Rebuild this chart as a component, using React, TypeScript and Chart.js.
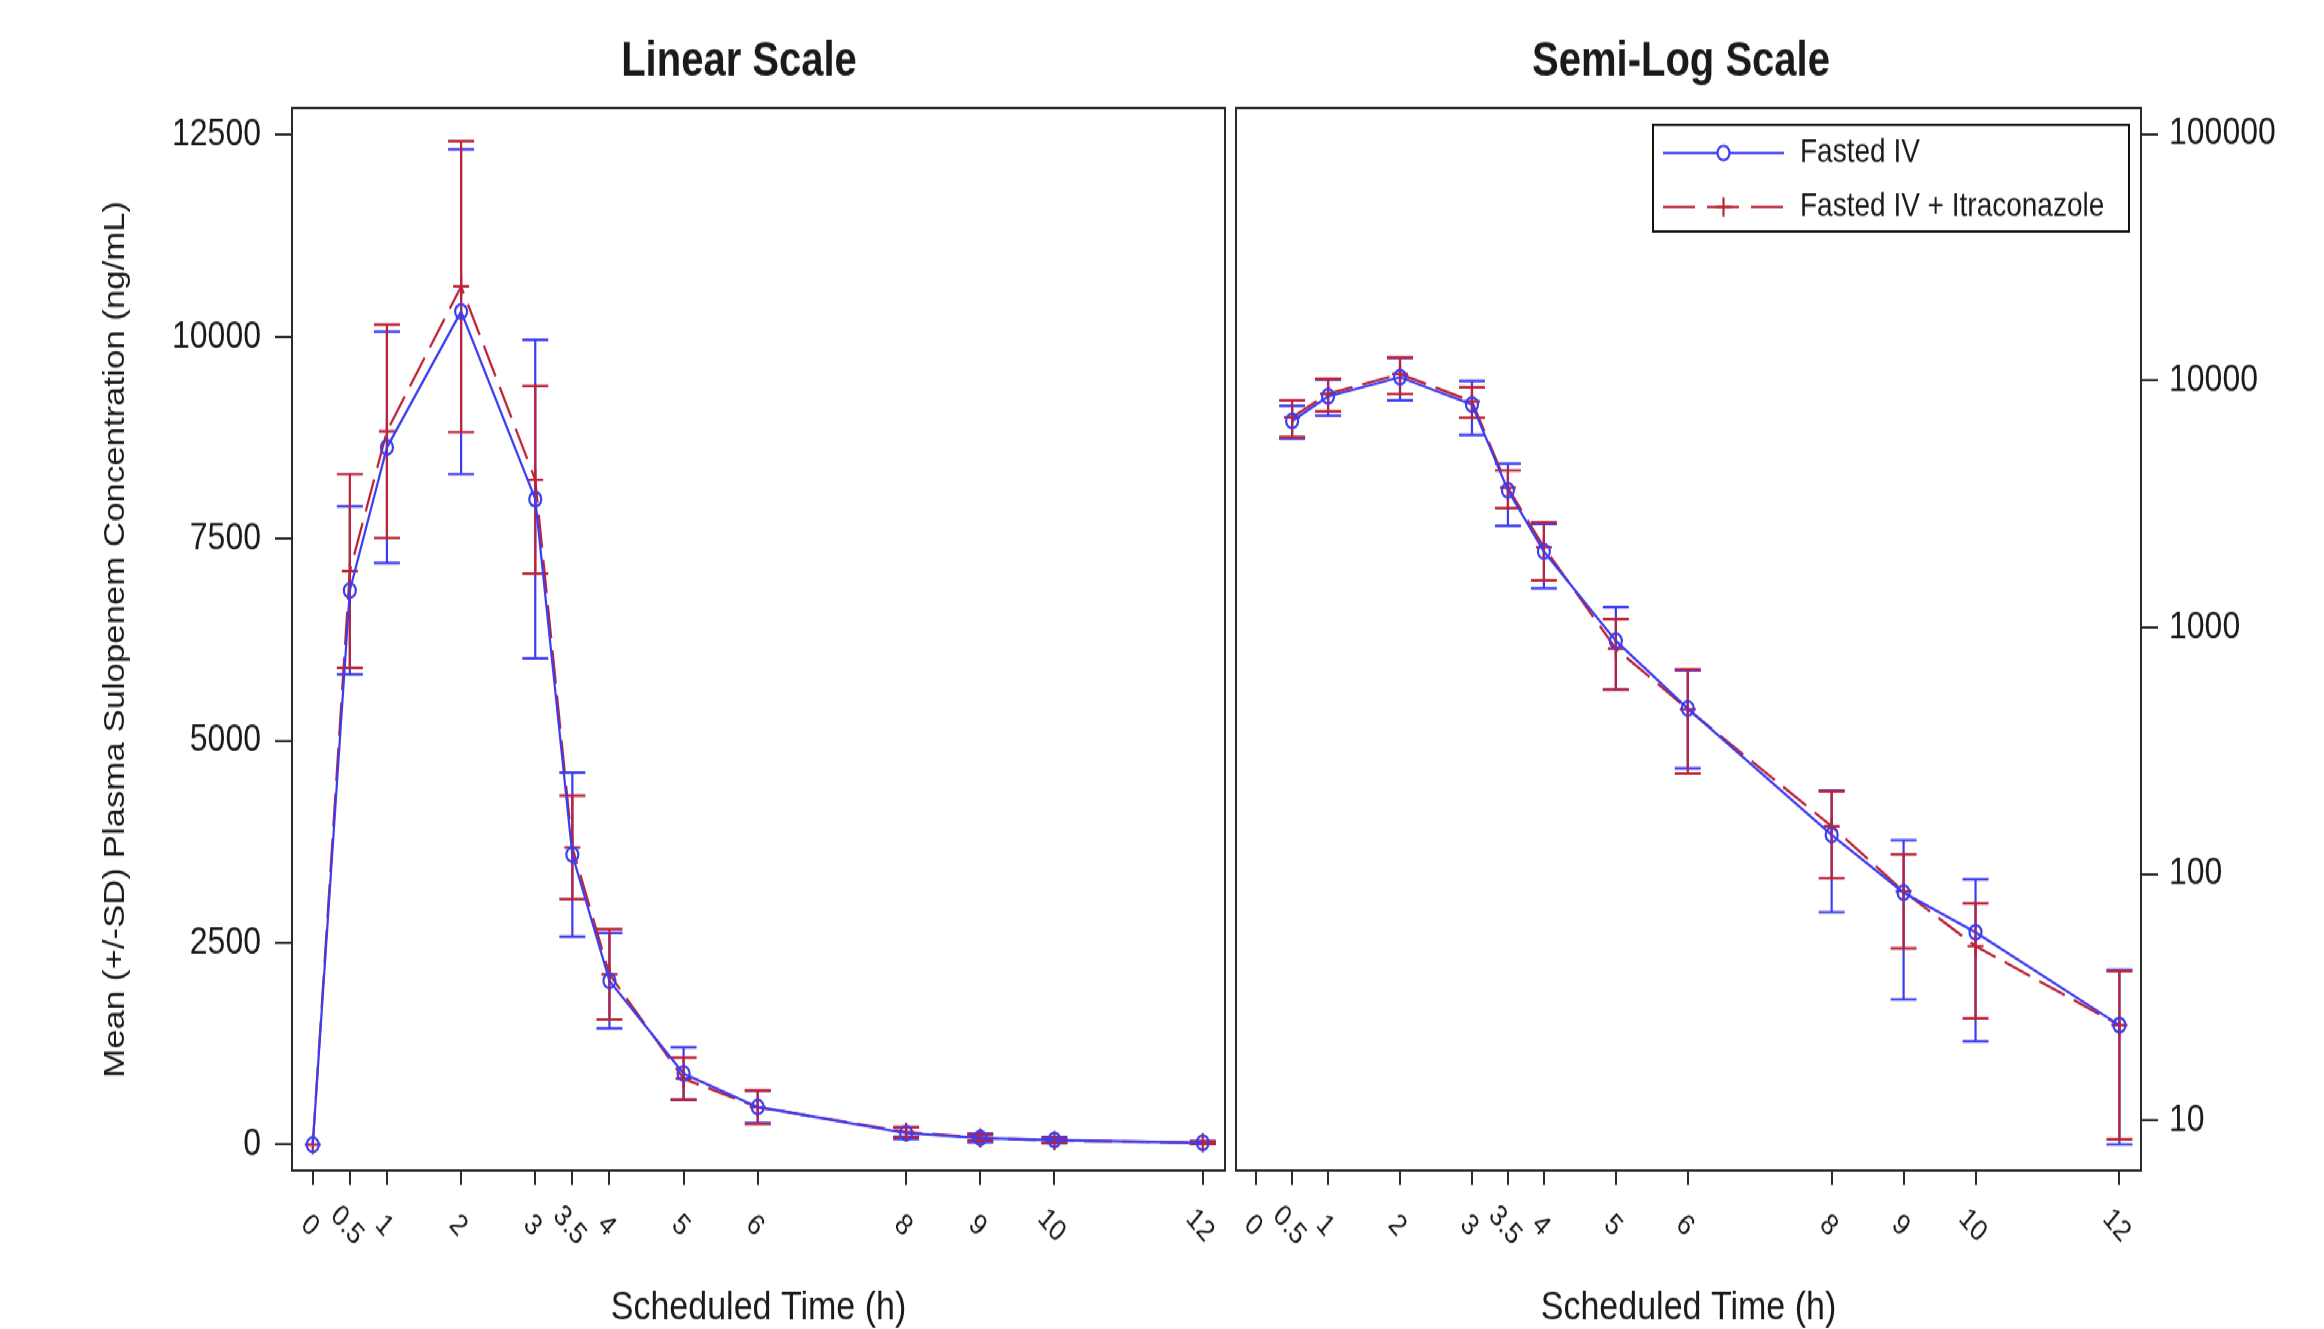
import React, { useEffect, useRef } from 'react';
import { Chart, registerables } from 'chart.js';

Chart.register(...registerables);

// ---------------- data ----------------
const times = [0, 0.5, 1, 2, 3, 3.5, 4, 5, 6, 8, 9, 10, 12];
const xTickLabels = ['0', '0.5', '1', '2', '3', '3.5', '4', '5', '6', '8', '9', '10', '12'];
const fastedMean = [0, 6860, 8630, 10310, 7990, 3590, 2030, 882, 468, 144, 84, 58, 24.4];
const fastedSD = [0, 1040, 1430, 2010, 1970, 1015, 590, 325, 200, 74, 53, 37, 16.4];
const itraMean = [0, 7100, 8830, 10620, 8230, 3680, 2110, 820, 465, 156, 85, 51, 24.4];
const itraSD = [0, 1200, 1320, 1800, 1160, 640, 560, 260, 210, 60, 35, 25, 16];
const linearYTicks = [0, 2500, 5000, 7500, 10000, 12500];
const logYTicks = [10, 100, 1000, 10000, 100000];
const seriesNames = ['Fasted IV', 'Fasted IV + Itraconazole'];
const panelTitles = ['Linear Scale', 'Semi-Log Scale'];
const xAxisTitle = 'Scheduled Time (h)';
const yAxisTitle = 'Mean (+/-SD) Plasma Sulopenem Concentration (ng/mL)';

// ---------------- styling ----------------
const BLUE = '#3c3cf0';
const RED = '#bd2335';
const INK = '#1a1a1a';
const FRAME = '#2a2a2a';
const FONT = "'Liberation Sans', Arial, sans-serif";
const H = 1108;
const STRETCH = 1329 / H;
const LEFT_W = 1230;
const RIGHT_W = 1094;
const AREA_TOP = 90;
const AREA_BOTTOM = 976;

Chart.defaults.font.family = FONT;
Chart.defaults.color = INK;

const framePlugin = {
  id: 'frame',
  afterDraw(chart: any) {
    const { ctx, chartArea: a } = chart;
    ctx.save();
    ctx.strokeStyle = FRAME;
    ctx.lineWidth = 2;
    ctx.strokeRect(a.left, a.top, a.right - a.left, a.bottom - a.top);
    ctx.restore();
  },
};

const errorBarPlugin = {
  id: 'errorBars',
  beforeDatasetsDraw(chart: any) {
    const { ctx } = chart;
    const x = chart.scales.x;
    const y = chart.scales.y;
    const cap = 13;
    const order = [0, 1];
    order.forEach((di) => {
      const ds = chart.data.datasets[di];
      ctx.save();
      ctx.strokeStyle = ds.borderColor;
      ctx.lineWidth = 2.2;
      ctx.setLineDash([]);
      ds.data.forEach((p: any) => {
        if (p.y == null || !p.sd) return;
        const px = x.getPixelForValue(p.x);
        const lo = p.y - p.sd;
        const hi = p.y + p.sd;
        const yHi = y.getPixelForValue(hi);
        const yLo = y.type === 'logarithmic' && lo <= 0 ? y.bottom : y.getPixelForValue(lo);
        ctx.beginPath();
        ctx.moveTo(px, yHi);
        ctx.lineTo(px, yLo);
        ctx.moveTo(px - cap, yHi);
        ctx.lineTo(px + cap, yHi);
        ctx.moveTo(px - cap, yLo);
        ctx.lineTo(px + cap, yLo);
        ctx.stroke();
      });
      ctx.restore();
    });
  },
};

const xLabelPlugin = {
  id: 'xLabels',
  afterDraw(chart: any) {
    const { ctx } = chart;
    const x = chart.scales.x;
    ctx.save();
    ctx.fillStyle = INK;
    ctx.font = `25px ${FONT}`;
    ctx.textAlign = 'center';
    ctx.textBaseline = 'middle';
    times.forEach((t, i) => {
      const px = x.getPixelForValue(t);
      ctx.save();
      ctx.translate(px - 3, 1022);
      ctx.rotate(Math.PI / 4);
      ctx.fillText(xTickLabels[i], 0, 0);
      ctx.restore();
    });
    ctx.restore();
  },
};

function titlePlugin(text: string, cx: number) {
  return {
    id: 'panelTitle',
    afterDraw(chart: any) {
      const { ctx } = chart;
      ctx.save();
      ctx.fillStyle = INK;
      ctx.font = `bold 40px ${FONT}`;
      ctx.textAlign = 'center';
      ctx.textBaseline = 'middle';
      ctx.fillText(text, cx, 52);
      ctx.restore();
    },
  };
}

const legendPlugin = {
  id: 'customLegend',
  afterDraw(chart: any) {
    const { ctx } = chart;
    const bx0 = 423, bx1 = 899, by0 = 104, by1 = 193;
    const rows = [127.5, 172.5];
    const lx0 = 433, lx1 = 554, lm = 493.5;
    ctx.save();
    ctx.fillStyle = '#ffffff';
    ctx.fillRect(bx0, by0, bx1 - bx0, by1 - by0);
    ctx.strokeStyle = '#111';
    ctx.lineWidth = 2;
    ctx.strokeRect(bx0, by0, bx1 - bx0, by1 - by0);
    // row 1
    ctx.lineWidth = 2.2;
    ctx.strokeStyle = BLUE;
    ctx.beginPath();
    ctx.moveTo(lx0, rows[0]);
    ctx.lineTo(lx1, rows[0]);
    ctx.stroke();
    ctx.beginPath();
    ctx.arc(lm, rows[0], 6, 0, Math.PI * 2);
    ctx.fillStyle = '#fff';
    ctx.fill();
    ctx.stroke();
    // row 2
    ctx.strokeStyle = RED;
    ctx.setLineDash([32, 12]);
    ctx.beginPath();
    ctx.moveTo(lx0, rows[1]);
    ctx.lineTo(lx1, rows[1]);
    ctx.stroke();
    ctx.setLineDash([]);
    ctx.beginPath();
    ctx.moveTo(lm - 8, rows[1]);
    ctx.lineTo(lm + 8, rows[1]);
    ctx.moveTo(lm, rows[1] - 8);
    ctx.lineTo(lm, rows[1] + 8);
    ctx.stroke();
    ctx.fillStyle = INK;
    ctx.font = `28px ${FONT}`;
    ctx.textAlign = 'left';
    ctx.textBaseline = 'middle';
    ctx.fillText(seriesNames[0], 570, rows[0]);
    ctx.fillText(seriesNames[1], 570, rows[1]);
    ctx.restore();
  },
};

function buildDatasets(isLog: boolean) {
  const mk = (means: number[], sds: number[]) =>
    times.map((t, i) => ({ x: t, y: isLog && means[i] <= 0 ? null : means[i], sd: sds[i] }));
  return [
    {
      label: seriesNames[0],
      data: mk(fastedMean, fastedSD),
      borderColor: BLUE,
      backgroundColor: 'rgba(0,0,0,0)',
      borderWidth: 2.2,
      pointStyle: 'circle',
      pointRadius: 6,
      pointBorderWidth: 2.2,
      pointBackgroundColor: 'rgba(255,255,255,0)',
      pointBorderColor: BLUE,
      spanGaps: true,
      tension: 0,
    },
    {
      label: seriesNames[1],
      data: mk(itraMean, itraSD),
      borderColor: RED,
      backgroundColor: 'rgba(0,0,0,0)',
      borderWidth: 2.2,
      borderDash: [28, 10],
      pointStyle: 'cross',
      pointRadius: 8,
      pointBorderWidth: 2.2,
      pointBorderColor: RED,
      spanGaps: true,
      tension: 0,
    },
  ];
}

function makeConfig(isLog: boolean): any {
  const xScale = {
    type: 'linear',
    position: 'bottom',
    min: -0.28,
    max: 12.3,
    afterBuildTicks: (s: any) => {
      s.ticks = times.map((v) => ({ value: v }));
    },
    afterFit: (s: any) => {
      s.height = H - AREA_BOTTOM;
    },
    ticks: { display: false },
    grid: {
      display: true,
      drawOnChartArea: false,
      drawTicks: true,
      tickLength: 12,
      color: FRAME,
      lineWidth: 2,
    },
    border: { display: false },
    title: {
      display: true,
      text: xAxisTitle,
      color: INK,
      font: { size: 34, family: FONT, lineHeight: 1 },
      padding: { top: 0, bottom: 0 },
    },
  };
  const yScale = isLog
    ? {
        type: 'logarithmic',
        position: 'right',
        min: 6.27,
        max: 127350,
        afterBuildTicks: (s: any) => {
          s.ticks = logYTicks.map((v) => ({ value: v }));
        },
        afterFit: (s: any) => {
          s.width = RIGHT_W - 911;
        },
        ticks: {
          callback: (v: any) => String(v),
          font: { size: 32, family: FONT },
          color: INK,
          padding: 11,
        },
        grid: {
          display: true,
          drawOnChartArea: false,
          drawTicks: true,
          tickLength: 17,
          color: FRAME,
          lineWidth: 2,
        },
        border: { display: false },
      }
    : {
        type: 'linear',
        position: 'left',
        min: -320,
        max: 12831,
        afterBuildTicks: (s: any) => {
          s.ticks = linearYTicks.map((v) => ({ value: v }));
        },
        afterFit: (s: any) => {
          s.width = 292;
        },
        ticks: {
          callback: (v: any) => String(v),
          font: { size: 32, family: FONT },
          color: INK,
          padding: 14,
        },
        grid: {
          display: true,
          drawOnChartArea: false,
          drawTicks: true,
          tickLength: 17,
          color: FRAME,
          lineWidth: 2,
        },
        border: { display: false },
        title: {
          display: true,
          text: yAxisTitle,
          color: INK,
          font: { size: 29, family: FONT, lineHeight: 1 },
          padding: { top: 101, bottom: 0 },
        },
      };
  return {
    type: 'line',
    data: { datasets: buildDatasets(isLog) },
    options: {
      responsive: false,
      maintainAspectRatio: false,
      animation: false,
      devicePixelRatio: 1,
      layout: {
        autoPadding: false,
        padding: isLog
          ? { top: AREA_TOP, left: 6, right: 0, bottom: 0 }
          : { top: AREA_TOP, left: 0, right: LEFT_W - 1225, bottom: 0 },
      },
      plugins: {
        legend: { display: false },
        title: { display: false },
        tooltip: { enabled: false },
      },
      scales: { x: xScale, y: yScale },
    },
    plugins: [
      errorBarPlugin,
      framePlugin,
      xLabelPlugin,
      titlePlugin(isLog ? panelTitles[1] : panelTitles[0], isLog ? 451 : 739),
      ...(isLog ? [legendPlugin] : []),
    ],
  };
}

export default function App() {
  const leftRef = useRef<HTMLCanvasElement>(null);
  const rightRef = useRef<HTMLCanvasElement>(null);

  useEffect(() => {
    const charts: any[] = [];
    if (leftRef.current) charts.push(new Chart(leftRef.current, makeConfig(false)));
    if (rightRef.current) charts.push(new Chart(rightRef.current, makeConfig(true)));
    return () => charts.forEach((c) => c.destroy());
  }, []);

  return (
    <div
      style={{
        position: 'fixed',
        left: 0,
        top: 0,
        width: 2324,
        height: 1329,
        overflow: 'hidden',
        background: '#ffffff',
      }}
    >
      <div
        style={{
          position: 'absolute',
          left: 0,
          top: 0,
          width: 2324,
          height: H,
          transform: `scaleY(${STRETCH})`,
          transformOrigin: '0 0',
        }}
      >
        <canvas
          ref={leftRef}
          width={LEFT_W}
          height={H}
          style={{ position: 'absolute', left: 0, top: 0, width: LEFT_W, height: H }}
        />
        <canvas
          ref={rightRef}
          width={RIGHT_W}
          height={H}
          style={{ position: 'absolute', left: LEFT_W, top: 0, width: RIGHT_W, height: H }}
        />
      </div>
    </div>
  );
}
